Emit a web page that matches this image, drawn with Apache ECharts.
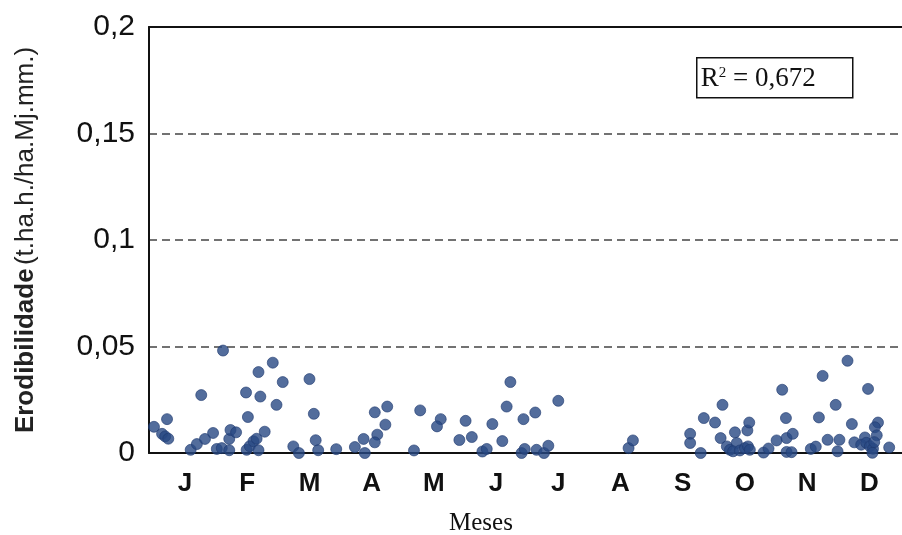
<!DOCTYPE html>
<html>
<head>
<meta charset="utf-8">
<title>Erodibilidade mensal</title>
<script src="https://cdn.jsdelivr.net/npm/echarts@6/dist/echarts.min.js"></script>
<style>
  html, body { margin: 0; padding: 0; background: #fff; }
  #chart { width: 902px; height: 535px; }
</style>
</head>
<body>
<div id="chart"></div>
<script>
// Month initials shown under the axis (Portuguese)
const monthLabels = ['J', 'F', 'M', 'A', 'M', 'J', 'J', 'A', 'S', 'O', 'N', 'D'];
// Centre of each month on the month-position scale (0 = start of January)
const monthCenters = [0.5, 1.5, 2.5, 3.5, 4.5, 5.5, 6.5, 7.5, 8.5, 9.5, 10.5, 11.5];

// Position of each event within the year, in months
const monthPos = [
  0.00, 0.21, 0.13, 0.18, 0.23, 0.59, 0.69, 0.82, 0.95, 0.76, 1.11, 1.01, 1.09, 1.21, 1.21,
  1.23, 1.32, 1.48, 1.51, 1.49, 1.54, 1.60, 1.65, 1.68, 1.68, 1.71, 1.78, 1.91, 2.07, 1.97,
  2.24, 2.33, 2.50, 2.57, 2.60, 2.64, 2.93, 3.23, 3.39, 3.37, 3.55, 3.75, 3.72, 3.59, 3.55,
  4.18, 4.28, 4.61, 4.55, 5.01, 4.91, 5.11, 5.28, 5.35, 5.44, 5.60, 5.67, 5.73, 5.94, 6.13,
  5.91, 5.96, 6.15, 6.27, 6.34, 6.50, 7.63, 7.70,
  8.62, 8.62, 8.79, 8.84, 9.02, 9.14, 9.11, 9.21, 9.26, 9.34, 9.37, 9.31, 9.42, 9.50, 9.55,
  9.58, 9.54, 9.57, 9.80, 9.88, 10.01, 10.10, 10.16, 10.17, 10.27, 10.17, 10.25, 10.56, 10.64, 10.69,
  10.75, 10.83, 10.96, 11.02, 10.99, 11.15, 11.22, 11.26, 11.48, 11.64, 11.59, 11.62, 11.43, 11.37, 11.45,
  11.51, 11.56, 11.55, 11.58, 11.82
];

// Erodibility of each event (t.ha.h./ha.Mj.mm.)
const erodibility = [
  0.0123, 0.0159, 0.0090, 0.0078, 0.0067, 0.0015, 0.0042, 0.0066, 0.0094, 0.0272, 0.0481, 0.0019, 0.0023, 0.0013, 0.0066,
  0.0108, 0.0097, 0.0284, 0.0169, 0.0015, 0.0032, 0.0055, 0.0067, 0.0013, 0.0380, 0.0265, 0.0100, 0.0424, 0.0333, 0.0226,
  0.0031, 0.0000, 0.0347, 0.0184, 0.0060, 0.0013, 0.0018, 0.0028, 0.0000, 0.0066, 0.0191, 0.0218, 0.0133, 0.0086, 0.0050,
  0.0012, 0.0200, 0.0159, 0.0125, 0.0151, 0.0061, 0.0075, 0.0007, 0.0019, 0.0136, 0.0056, 0.0218, 0.0333, 0.0159, 0.0190,
  0.0000, 0.0019, 0.0015, 0.0000, 0.0034, 0.0245, 0.0023, 0.0059,
  0.0090, 0.0047, 0.0000, 0.0164, 0.0143, 0.0226, 0.0070, 0.0031, 0.0015, 0.0097, 0.0047, 0.0008, 0.0012, 0.0023, 0.0031,
  0.0015, 0.0106, 0.0143, 0.0002, 0.0021, 0.0059, 0.0297, 0.0164, 0.0070, 0.0090, 0.0005, 0.0004, 0.0019, 0.0030, 0.0167,
  0.0362, 0.0062, 0.0226, 0.0062, 0.0008, 0.0433, 0.0136, 0.0050, 0.0301, 0.0143, 0.0121, 0.0083, 0.0073, 0.0039, 0.0048,
  0.0032, 0.0020, 0.0001, 0.0051, 0.0026
];

// Y axis ticks
const yMin = 0, yMax = 0.2, yStep = 0.05;
const rSquared = '0,672';

const points = monthPos.map((m, i) => [m, erodibility[i]]);

const sans = 'Liberation Sans, Arial, sans-serif';
const serif = 'Liberation Serif, Times New Roman, serif';

const chart = echarts.init(document.getElementById('chart'), null, { renderer: 'canvas' });

chart.setOption({
  animation: false,
  backgroundColor: '#ffffff',
  grid: {
    left: 149,
    top: 27,
    bottom: 82,
    right: 0
  },
  xAxis: [{
    type: 'value',
    min: -0.08,
    max: 12.026,
    axisLine: { show: true, onZero: false, lineStyle: { color: '#111', width: 2 } },
    axisTick: { show: false },
    splitLine: { show: false },
    axisLabel: {
      customValues: monthCenters,
      formatter: (v) => monthLabels[Math.round(v - 0.5)],
      fontFamily: sans,
      fontWeight: 'bold',
      fontSize: 26,
      color: '#111',
      margin: 18
    }
  }, {
    // top frame line of the plot area
    type: 'value',
    position: 'top',
    min: -0.08,
    max: 12.026,
    axisLine: { show: true, onZero: false, lineStyle: { color: '#111', width: 2 } },
    axisTick: { show: false },
    axisLabel: { show: false },
    splitLine: { show: false }
  }],
  yAxis: {
    type: 'value',
    min: yMin,
    max: yMax,
    interval: yStep,
    axisLine: { show: true, onZero: false, lineStyle: { color: '#111', width: 2 } },
    axisTick: { show: false },
    splitLine: { show: true, lineStyle: { color: '#444', width: 1.5, type: [8, 5] } },
    axisLabel: {
      formatter: (v) => String(+v.toFixed(2)).replace('.', ','),
      fontFamily: sans,
      fontSize: 30,
      color: '#111',
      margin: 14
    },
    name: '{b|Erodibilidade} {n|(t.ha.h./ha.Mj.mm.)}',
    nameLocation: 'middle',
    nameGap: 110,
    nameRotate: 90,
    nameTextStyle: {
      rich: {
        b: { fontFamily: sans, fontWeight: 'bold', fontSize: 26, color: '#222' },
        n: { fontFamily: sans, fontSize: 26, color: '#222' }
      }
    }
  },
  series: [{
    type: 'scatter',
    data: points,
    symbol: 'circle',
    symbolSize: 11,
    clip: false,
    itemStyle: { color: '#284883', borderColor: '#1f3b70', borderWidth: 0.8 }
  }],
  graphic: [{
    type: 'text',
    left: 482 - 33,
    top: 511,
    style: {
      text: 'Meses',
      font: '25px ' + serif,
      fill: '#111'
    }
  }, {
    type: 'group',
    left: 696,
    top: 57,
    children: [
      {
        type: 'rect',
        shape: { x: 0, y: 0, width: 156, height: 40 },
        style: { fill: '#fff', stroke: '#111', lineWidth: 1.5 }
      },
      {
        type: 'text',
        x: 4,
        y: 21,
        style: {
          text: '{r|R}{s|2}{r| = ' + rSquared + '}',
          verticalAlign: 'middle',
          rich: {
            r: { fontFamily: serif, fontSize: 27, fill: '#111' },
            s: { fontFamily: serif, fontSize: 15, fill: '#111', verticalAlign: 'top', padding: [0, 0, 12, 0] }
          }
        }
      }
    ]
  }]
});
</script>
</body>
</html>
